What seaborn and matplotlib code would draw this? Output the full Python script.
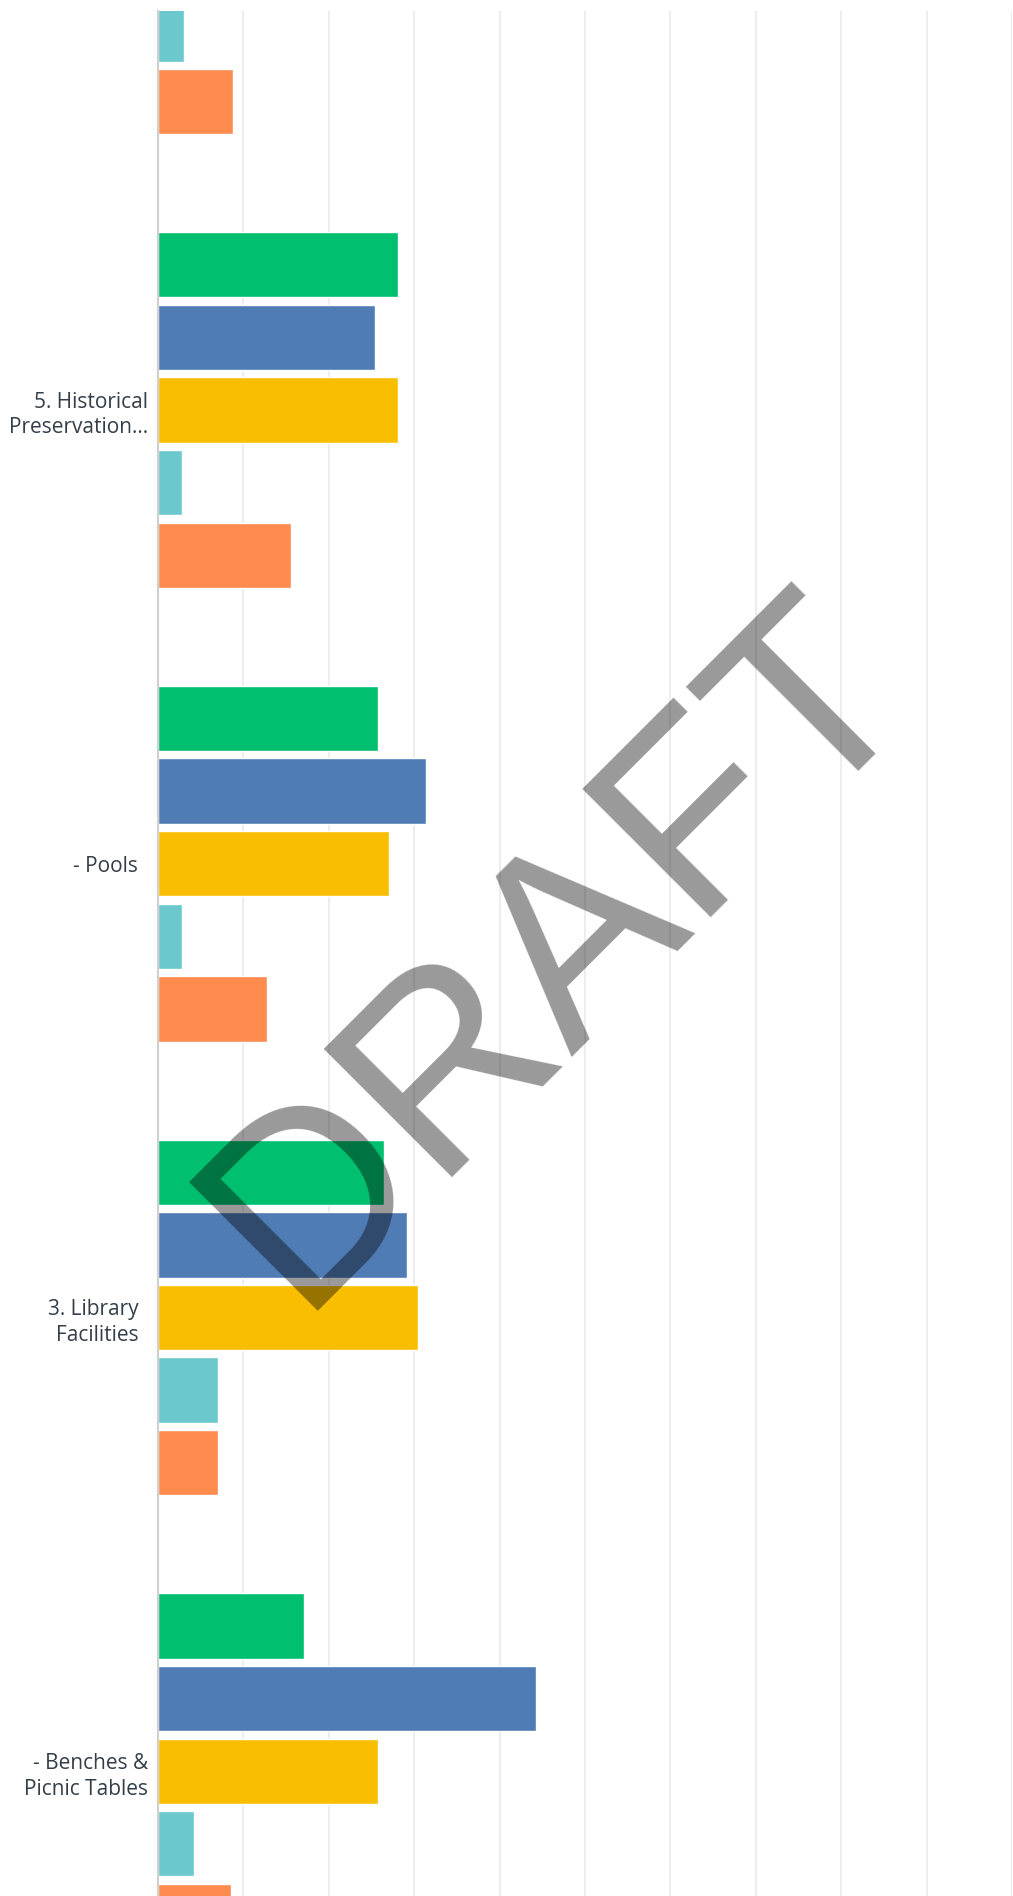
import pandas as pd
import numpy as np
import matplotlib
matplotlib.use('Agg')
import matplotlib.pyplot as plt
import matplotlib.transforms as mtransforms
import seaborn as sns

# --- data (percent of respondents) ---
items = ['- Playgrounds', '5. Historical\nPreservation...', '- Pools',
         '3. Library\nFacilities', '- Benches &\nPicnic Tables']
ratings = ['Very important', 'Important', 'Somewhat important',
           'Not important', 'No opinion']
very_important = [np.nan, 28.1, 25.8, 26.5, 17.1]
important = [np.nan, 25.4, 31.4, 29.2, 44.3]
somewhat_important = [np.nan, 28.1, 27.0, 30.4, 25.8]
not_important = [3.0, 2.8, 2.8, 7.0, 4.2]
no_opinion = [8.8, 15.6, 12.8, 7.0, 8.5]
x_ticks = [0, 10, 20, 30, 40, 50, 60, 70, 80, 90, 100]

colors = ['#00BF6F', '#507CB6', '#F9BE00', '#6BC8CD', '#FF8B4F']

# long format table for seaborn
series = [very_important, important, somewhat_important, not_important, no_opinion]
rows = []
for rating, vals in zip(ratings, series):
    for item, v in zip(items, vals):
        rows.append({'item': item, 'rating': rating, 'pct': v})
df = pd.DataFrame(rows)

sns.set_style('white')
plt.rcParams['font.family'] = ['Open Sans', 'DejaVu Sans']

fig = plt.figure(figsize=(10.13, 18.96), dpi=100)
ax = fig.add_axes([158 / 1013, 0, (1012 - 158) / 1013, (1896 - 11) / 1896])

sns.barplot(data=df, y='item', x='pct', hue='rating', order=items,
            hue_order=ratings, palette=colors, orient='h', width=0.8,
            gap=0.1, saturation=1, legend=False, ax=ax, zorder=3)

ax.set_xlim(0, 100)
ax.set_ylim(4.275, 0.1206)
ax.set_xticks(x_ticks)
ax.grid(axis='x', color='#EDEDED', linewidth=1.5, zorder=0)
ax.grid(axis='y', visible=False)
ax.set_axisbelow(True)
ax.set_xlabel('')
ax.set_ylabel('')
ax.tick_params(axis='x', bottom=False, labelbottom=False)
ax.tick_params(axis='y', length=0, pad=7, labelsize=15, labelcolor='#333E48')
shift = mtransforms.ScaledTranslation(-0.1, 0, fig.dpi_scale_trans)
for i, lab in enumerate(ax.get_yticklabels()):
    lab.set_linespacing(1.3)
    # the short labels sit a bit further from the axis in the original
    if i in (2, 3):
        lab.set_transform(lab.get_transform() + shift)

for side in ['top', 'right', 'bottom']:
    ax.spines[side].set_visible(False)
ax.spines['left'].set_color('#D0D0D0')
ax.spines['left'].set_linewidth(1.5)
ax.spines['left'].set_zorder(4)

# DRAFT watermark
fig.text(0.2919, 0.3085, 'DRAFT', family='Liberation Sans', fontsize=190,
         color='black', alpha=0.4, rotation=45, rotation_mode='anchor',
         ha='left', va='baseline', zorder=10)

fig.savefig('out.png', dpi=100, facecolor='white')
